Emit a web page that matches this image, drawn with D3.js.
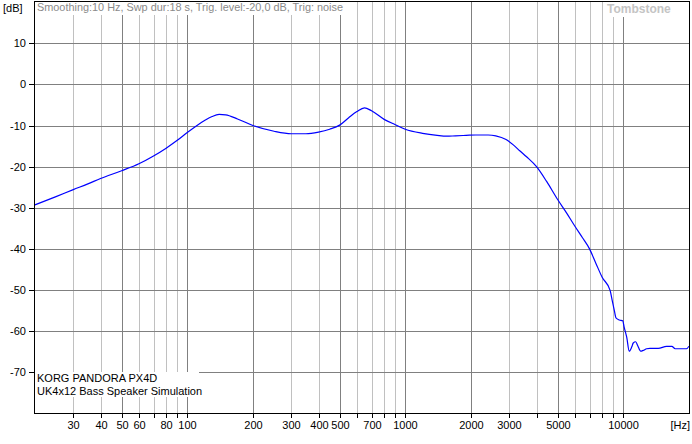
<!DOCTYPE html>
<html>
<head>
<meta charset="utf-8">
<script src="https://cdn.jsdelivr.net/npm/d3@7"></script>
<style>
  html, body { margin: 0; padding: 0; background: #fff; }
  svg { display: block; }
  text { font-family: "Liberation Sans", Arial, sans-serif; }
</style>
</head>
<body>
<svg id="chart" width="692" height="444"></svg>
<script>
// ---- data ----
const freqHz = [20, 25, 30, 35, 40, 50, 60, 70, 80, 90, 100, 110, 120, 130, 140, 150, 170, 200, 250, 300,
  350, 400, 450, 500, 550, 600, 650, 700, 800, 900, 1000, 1200, 1400, 1550, 1700, 1900, 2100, 2400, 2600, 2900,
  3130, 3360, 3600, 4000, 4450, 5000, 5500, 6000, 6500, 7000, 7500, 8000, 8700, 8900, 9100, 9260, 9590, 9940, 10100, 10370,
  10650, 10930, 11110, 11400, 11640, 12020, 12350, 12800, 13260, 14470, 15800, 16700, 17300, 19500, 20000];
const levelDb = [-29.3, -27.3, -25.6, -24.2, -22.9, -21.0, -19.3, -17.4, -15.5, -13.6, -11.7, -10.1, -8.8, -7.8, -7.3, -7.4, -8.4, -10.0, -11.4, -12.0,
  -12.0, -11.6, -10.9, -9.9, -8.1, -6.6, -5.7, -6.4, -8.5, -9.8, -10.9, -11.9, -12.4, -12.6, -12.5, -12.4, -12.3, -12.3, -12.5, -13.4,
  -14.7, -16.2, -17.6, -20.0, -23.6, -28.0, -31.3, -34.5, -37.3, -40.0, -43.6, -46.9, -50.1, -52.6, -55.0, -56.8, -57.3, -57.5, -59.1, -61.5,
  -64.9, -63.9, -62.9, -62.6, -63.5, -64.9, -64.7, -64.3, -64.2, -64.2, -63.7, -63.7, -64.3, -64.3, -63.7];

const yTicks = [10, 0, -10, -20, -30, -40, -50, -60, -70];
const xGridMajor = [50, 100, 200, 500, 1000, 2000, 5000, 10000];
const xGridMinor = [30, 40, 60, 70, 80, 90, 300, 400, 600, 700, 800, 900, 3000, 4000, 6000, 7000, 8000, 9000];
const xTickLabels = [30, 40, 50, 60, 80, 100, 200, 300, 400, 500, 700, 1000, 2000, 3000, 5000, 10000];

const headerText = "Smoothing:10 Hz, Swp dur:18 s, Trig. level:-20,0 dB, Trig: noise";
const watermark = "Tombstone";
const noteLines = ["KORG PANDORA PX4D", "UK4x12 Bass Speaker Simulation"];
const yUnit = "[dB]";
const xUnit = "[Hz]";

// ---- layout ----
const svg = d3.select("#chart");
const L = 34, R = 689, T = 1, B = 413;
const x = d3.scaleLog().domain([20, 20000]).range([34.9, 688.9]);
const y = d3.scaleLinear().domain([-80, 20]).range([413.3, 2.2]);
const px = v => Math.round(v) + 0.5;

svg.append("rect").attr("width", 692).attr("height", 444).attr("fill", "#fff");

// minor vertical grid
svg.append("g").selectAll("line").data(xGridMinor).join("line")
  .attr("x1", d => px(x(d))).attr("x2", d => px(x(d)))
  .attr("y1", T).attr("y2", B)
  .attr("stroke", "#c0c0c0").attr("stroke-width", 1);
// major vertical grid
svg.append("g").selectAll("line").data(xGridMajor).join("line")
  .attr("x1", d => px(x(d))).attr("x2", d => px(x(d)))
  .attr("y1", T).attr("y2", B)
  .attr("stroke", "#808080").attr("stroke-width", 1);
// horizontal grid
svg.append("g").selectAll("line").data(yTicks).join("line")
  .attr("x1", L).attr("x2", R)
  .attr("y1", d => px(y(d))).attr("y2", d => px(y(d)))
  .attr("stroke", "#808080").attr("stroke-width", 1);

// text boxes masking the grid
svg.append("rect").attr("x", L + 1).attr("y", T + 1).attr("width", 310).attr("height", 13).attr("fill", "#fff");
svg.append("rect").attr("x", 605).attr("y", T + 1).attr("width", 76).attr("height", 15).attr("fill", "#fff");
svg.append("rect").attr("x", L + 1).attr("y", 372).attr("width", 164).attr("height", 25).attr("fill", "#fff");

// curve
const line = d3.line()
  .x((d, i) => x(freqHz[i]))
  .y(d => y(d))
  .curve(d3.curveMonotoneX);
svg.append("path").datum(levelDb)
  .attr("d", line)
  .attr("fill", "none")
  .attr("stroke", "#0000ff")
  .attr("stroke-width", 1.2);

// frame
svg.append("line").attr("x1", L + 0.5).attr("x2", L + 0.5).attr("y1", T).attr("y2", B + 1).attr("stroke", "#000");
svg.append("line").attr("x1", L).attr("x2", R + 1).attr("y1", B + 0.5).attr("y2", B + 0.5).attr("stroke", "#000");
svg.append("line").attr("x1", L).attr("x2", R + 1).attr("y1", T + 0.5).attr("y2", T + 0.5).attr("stroke", "#000");
svg.append("line").attr("x1", R + 0.5).attr("x2", R + 0.5).attr("y1", T).attr("y2", B + 1).attr("stroke", "#000");

// y axis ticks + labels
svg.append("g").selectAll("line").data(yTicks).join("line")
  .attr("x1", L - 5).attr("x2", L)
  .attr("y1", d => px(y(d))).attr("y2", d => px(y(d)))
  .attr("stroke", "#000");
svg.append("g").selectAll("text").data(yTicks).join("text")
  .attr("x", 26).attr("y", d => Math.round(y(d)) + 4)
  .attr("text-anchor", "end")
  .attr("font-size", 11).attr("fill", "#000")
  .text(d => d);

// x axis ticks + labels
svg.append("g").selectAll("line").data(xGridMajor.concat(xGridMinor)).join("line")
  .attr("x1", d => px(x(d))).attr("x2", d => px(x(d)))
  .attr("y1", B).attr("y2", B + 5)
  .attr("stroke", "#000");
svg.append("g").selectAll("text").data(xTickLabels).join("text")
  .attr("x", d => Math.round(x(d)) + 0.5).attr("y", 429)
  .attr("text-anchor", "middle")
  .attr("font-size", 11).attr("fill", "#000")
  .text(d => d);

// units
svg.append("text").attr("x", 3).attr("y", 12).attr("font-size", 11).attr("fill", "#000").text(yUnit);
svg.append("text").attr("x", 690).attr("y", 429).attr("text-anchor", "end").attr("font-size", 11).attr("fill", "#000").text(xUnit);

// header
svg.append("text").attr("x", 37).attr("y", 11).attr("font-size", 11).attr("fill", "#8a8a8a")
  .attr("textLength", 306).attr("lengthAdjust", "spacingAndGlyphs").text(headerText);
// watermark
svg.append("text").attr("x", 607).attr("y", 13).attr("font-size", 12).attr("font-weight", "bold")
  .attr("fill", "#c4c4c4").attr("font-family", "DejaVu Sans").text(watermark);

// notes
svg.append("g").selectAll("text").data(noteLines).join("text")
  .attr("x", 37).attr("y", (d, i) => 382 + i * 13)
  .attr("font-size", 11).attr("fill", "#000")
  .text(d => d);
</script>
</body>
</html>
